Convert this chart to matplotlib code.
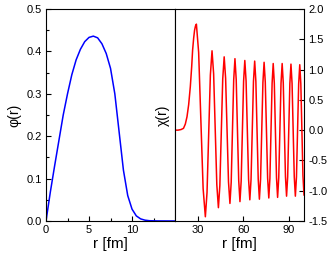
import matplotlib
matplotlib.use("Agg")
import matplotlib.pyplot as plt

plt.rcParams["font.family"] = ["Liberation Sans", "DejaVu Sans"]
plt.rcParams["axes.unicode_minus"] = False

# phi(r), left panel (r in fm)
r_phi = [0.0, 0.5, 1.0, 1.5, 2.0, 2.5, 3.0, 3.5, 4.0, 4.5, 5.0, 5.5, 6.0,
         6.5, 7.0, 7.5, 8.0, 8.5, 9.0, 9.5, 10.0, 10.5, 11.0, 11.5, 12.0,
         13.0, 15.0]
phi = [0.0, 0.068, 0.13, 0.19, 0.25, 0.30, 0.345, 0.38, 0.405, 0.423, 0.433,
       0.436, 0.432, 0.418, 0.395, 0.36, 0.30, 0.21, 0.12, 0.06, 0.028,
       0.012, 0.005, 0.002, 0.0007, 0.0002, 0.0]

# chi(r), right panel (r in fm)
r_chi = [15.0, 17.0, 19.0, 20.6, 21.8, 22.9, 24.0, 25.1, 26.0, 26.6, 27.3,
         27.9, 28.5, 29.1,
         30.58, 32.05, 33.53, 35.0,
         36.1, 37.2, 38.3, 39.4,
         40.45, 41.5, 42.55, 43.6,
         44.55, 45.5, 46.45, 47.4,
         48.35, 49.3, 50.25, 51.2,
         52.03, 52.85, 53.68, 54.5,
         55.33, 56.15, 56.98, 57.8,
         58.6, 59.4, 60.2, 61.0,
         61.83, 62.65, 63.48, 64.3,
         65.1, 65.9, 66.7, 67.5,
         68.28, 69.05, 69.83, 70.6,
         71.38, 72.15, 72.93, 73.7,
         74.48, 75.25, 76.03, 76.8,
         77.53, 78.25, 78.98, 79.7,
         80.43, 81.15, 81.88, 82.6,
         83.35, 84.1, 84.85, 85.6,
         86.33, 87.05, 87.78, 88.5,
         89.23, 89.95, 90.68, 91.4,
         92.13, 92.85, 93.58, 94.3,
         95.03, 95.75, 96.48, 97.2,
         97.9, 98.6, 99.3, 100.0]
chi = [0.0, 0.0, 0.01, 0.03, 0.10, 0.22, 0.42, 0.72, 1.05, 1.32, 1.52,
       1.65, 1.72, 1.75,
       1.284, 0.16, -0.964, -1.43,
       -1.029, -0.06, 0.909, 1.31,
       0.931, 0.015, -0.901, -1.28,
       -0.915, -0.035, 0.845, 1.21,
       0.855, 0.0, -0.855, -1.21,
       -0.86, -0.015, 0.83, 1.18,
       0.834, 0.0, -0.834, -1.18,
       -0.839, -0.015, 0.809, 1.15,
       0.813, 0.0, -0.813, -1.15,
       -0.815, -0.005, 0.805, 1.14,
       0.806, 0.0, -0.806, -1.14,
       -0.809, -0.01, 0.789, 1.12,
       0.792, 0.0, -0.792, -1.12,
       -0.795, -0.01, 0.775, 1.10,
       0.776, -0.005, -0.786, -1.11,
       -0.786, -0.005, 0.776, 1.10,
       0.779, 0.005, -0.769, -1.09,
       -0.771, 0.0, 0.771, 1.09,
       0.771, 0.0, -0.771, -1.09,
       -0.772, -0.005, 0.762, 1.08,
       0.765, 0.005, -0.755, -1.07]

fig = plt.figure(figsize=(3.32, 2.6), dpi=100)
ax1 = fig.add_axes([0.1386, 0.15, 0.3886, 0.8154])
ax2 = fig.add_axes([0.5271, 0.15, 0.3886, 0.8154])

ax1.plot(r_phi, phi, color="#0000FF", lw=1.1)
ax2.plot(r_chi, chi, color="#FF0000", lw=1.1)

ax1.set_xlim(0, 15)
ax1.set_ylim(0, 0.5)
ax1.set_xticks([0, 5, 10])
ax1.set_xticks([2.5, 7.5, 12.5], minor=True)
ax1.set_yticks([0.0, 0.1, 0.2, 0.3, 0.4, 0.5])
ax1.set_yticks([0.05, 0.15, 0.25, 0.35, 0.45], minor=True)
ax1.tick_params(which="both", direction="in", labelsize=8, width=0.8,
                top=False, right=False, pad=3)
ax1.tick_params(which="major", length=3.5)
ax1.tick_params(which="minor", length=2)
ax1.set_xlabel("r [fm]", fontsize=11, labelpad=1)
ax1.set_ylabel("φ(r)", fontsize=10, labelpad=4)

ax2.set_xlim(15, 100)
ax2.set_ylim(-1.5, 2.0)
ax2.set_xticks([30, 60, 90])
ax2.set_yticks([-1.5, -1.0, -0.5, 0.0, 0.5, 1.0, 1.5, 2.0])
ax2.yaxis.tick_right()
ax2.tick_params(which="both", direction="in", labelsize=8, width=0.8,
                length=3.5, pad=3)
ax2.set_xlabel("r [fm]", fontsize=11, labelpad=1)
ax2.set_ylabel("χ(r)", fontsize=10, labelpad=4)

for ax in (ax1, ax2):
    for s in ax.spines.values():
        s.set_linewidth(0.8)

fig.savefig("out.png", dpi=100, facecolor="white")
